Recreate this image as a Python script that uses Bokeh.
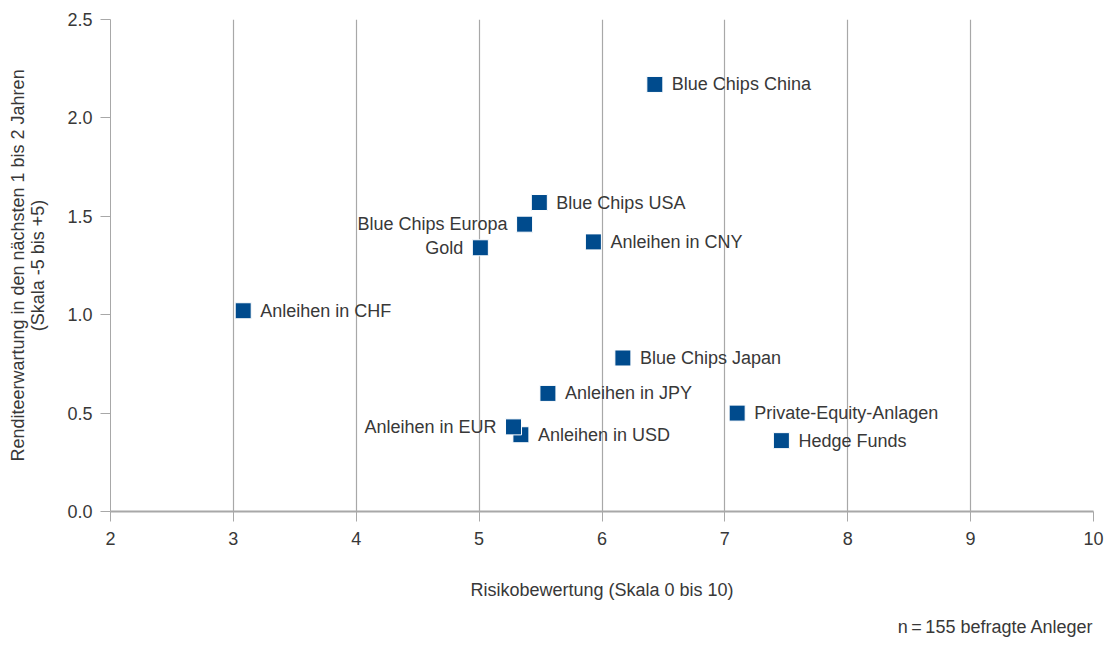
from bokeh.plotting import figure
from bokeh.models import Range1d, FixedTicker, NumeralTickFormatter, ColumnDataSource, Title
from bokeh.core.properties import value
from bokeh.embed import file_html
from bokeh.resources import INLINE

# Survey: risk rating vs. expected return per asset class
assets = [
    "Blue Chips China", "Blue Chips USA", "Blue Chips Europa", "Gold",
    "Anleihen in CNY", "Anleihen in CHF", "Blue Chips Japan", "Anleihen in JPY",
    "Private-Equity-Anlagen", "Anleihen in USD", "Anleihen in EUR", "Hedge Funds",
]
risk = [6.43, 5.49, 5.37, 5.01, 5.93, 3.08, 6.17, 5.56, 7.10, 5.34, 5.28, 7.46]
expected_return = [2.17, 1.57, 1.46, 1.34, 1.37, 1.02, 0.78, 0.60, 0.50, 0.39, 0.43, 0.36]

x_ticks = [2, 3, 4, 5, 6, 7, 8, 9, 10]
y_ticks = [0.0, 0.5, 1.0, 1.5, 2.0, 2.5]

# labels drawn to the left of their marker
left_labelled = {"Blue Chips Europa", "Gold", "Anleihen in EUR"}

FONT = "Liberation Sans"
TEXT = "#383838"
BLUE = "#004b8d"
GREY = "#a8a8a8"

p = figure(
    width=1107, height=648,
    x_range=Range1d(2, 10), y_range=Range1d(0, 2.5),
    output_backend="svg", toolbar_location=None,
    min_border_left=110, min_border_right=14,
    min_border_top=19, min_border_bottom=137,
)
p.outline_line_color = None
p.background_fill_color = "white"
p.border_fill_color = "white"

# axes
p.xaxis.ticker = FixedTicker(ticks=x_ticks)
p.yaxis.ticker = FixedTicker(ticks=y_ticks)
p.yaxis.formatter = NumeralTickFormatter(format="0.0")
for ax in (p.xaxis[0], p.yaxis[0]):
    ax.axis_line_color = GREY
    ax.major_tick_line_color = GREY
    ax.major_tick_out = 10
    ax.major_tick_in = 0
    ax.minor_tick_line_color = None
    ax.major_label_text_font = FONT
    ax.major_label_text_font_size = "18px"
    ax.major_label_text_color = TEXT
    ax.axis_label_text_font = FONT
    ax.axis_label_text_font_size = "18px"
    ax.axis_label_text_font_style = "normal"
    ax.axis_label_text_color = TEXT
p.xaxis.axis_line_width = 2
p.xaxis.major_label_standoff = 10
p.yaxis.major_label_standoff = 8
p.xaxis.axis_label = "Risikobewertung (Skala 0 bis 10)"
p.xaxis.axis_label_standoff = 32
p.yaxis.axis_label = "Renditeerwartung in den nächsten 1 bis 2 Jahren\n(Skala -5 bis +5)"
p.yaxis.axis_label_standoff = 16
p.yaxis.axis_label_text_line_height = 1.0

# vertical grid only
p.xgrid.grid_line_color = GREY
p.xgrid.grid_line_width = 1.2
p.ygrid.grid_line_color = None

src = ColumnDataSource(dict(x=risk, y=expected_return, name=assets))
p.scatter("x", "y", source=src, marker="square", size=16,
          fill_color=BLUE, line_color="white", line_width=1)

right_idx = [i for i, a in enumerate(assets) if a not in left_labelled]
left_idx = [i for i, a in enumerate(assets) if a in left_labelled]
for idx, align, off in ((right_idx, "left", 17), (left_idx, "right", -17)):
    s = ColumnDataSource(dict(
        x=[risk[i] for i in idx],
        y=[expected_return[i] for i in idx],
        t=[assets[i] for i in idx],
    ))
    p.text("x", "y", text="t", source=s, x_offset=off,
           text_align=align, text_baseline="middle",
           text_font=value(FONT), text_font_size="18px", text_color=TEXT)

# sample-size note under the chart, right-aligned
note = Title(text="n\u2009=\u2009155 befragte Anleger", align="right",
             vertical_align="bottom",
             text_font=FONT, text_font_size="18px", text_font_style="normal",
             text_color=TEXT, standoff=24)
p.add_layout(note, "below")

open("out.html", "w").write(file_html(p, INLINE))
